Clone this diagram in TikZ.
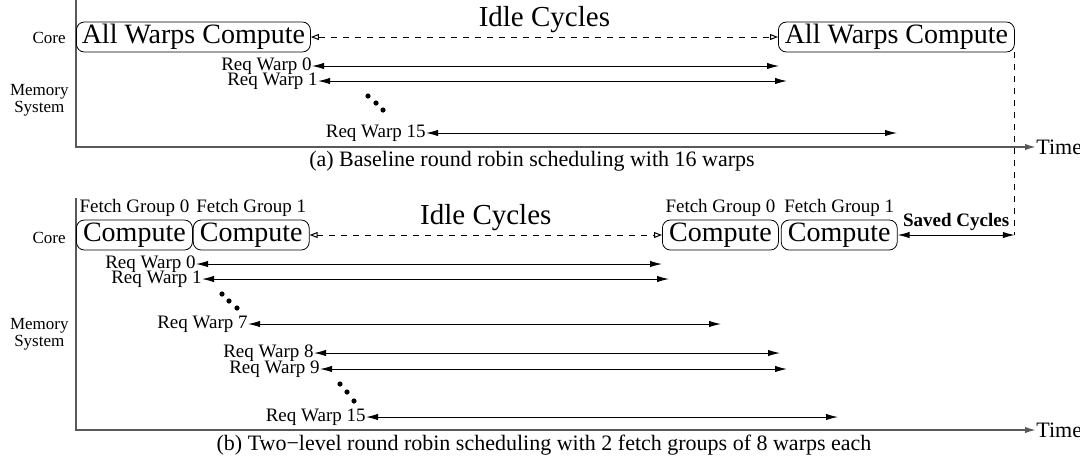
\documentclass[tikz,border=0pt]{standalone}
\usepackage{fontspec}
\setmainfont{Liberation Serif}
\usetikzlibrary{arrows.meta}
\usetikzlibrary{positioning}

\begin{document}
\begin{tikzpicture}[
    x=0.5pt, y=-0.5pt, % one unit per pixel of the figure, y going down
    every node/.style={
        inner sep=0pt, % labels touch the arrows
        font=\fontsize{9.5}{10}\selectfont
    },
    phase/.style={
        draw, rounded corners=4pt, % compute phases on the core
        minimum height=15pt,
        font=\fontsize{14}{16}\selectfont
    },
    side/.style={anchor=east, align=center, font=\fontsize{8.5}{6.5}\selectfont},
    big/.style={font=\fontsize{14.5}{16}\selectfont},
    caption/.style={font=\fontsize{11}{12}\selectfont},
    axis/.style={line width=0.8pt, draw=black!65, -{Latex[length=5.5pt,width=3.2pt]}},
    req/.style={line width=0.5pt, {Latex[length=6pt,width=3.2pt]}-{Latex[length=6pt,width=3.2pt]}},
    idle/.style={dashed, line width=0.5pt, {Triangle[open,length=4pt,width=3pt]}-{Triangle[open,length=4pt,width=3pt]}}
]
\useasboundingbox (0,0) rectangle (1080,457);

% (a) baseline round robin
\coordinate (topA) at (76,0);
\node[caption, anchor=west] (timeA) at (1036,147) {Time};
\draw[axis] (topA) |- (timeA.west);
\node[side] (coreA) at (66,38) {Core};
\node[side] (memA) at (69,100) {Memory\\System};

\node[phase, anchor=west, minimum width=117pt] (boxA) at (76,37) {All Warps Compute};
\node[phase, anchor=west, minimum width=118pt] (boxB) at (778,37) {All Warps Compute};
\draw[idle] (boxA.east) -- node[big, above=2pt] (idleA) {Idle Cycles} (boxB.west);

\node[anchor=east] (wa0) at (312,66) {Req Warp 0};
\node[anchor=east] (wa1) at (318,81) {Req Warp 1};
\node[anchor=east] (wa15) at (426,133) {Req Warp 15};
\coordinate (ea0) at (779,66);
\coordinate (ea1) at (787,81);
\coordinate (ea15) at (897,133);
\draw[req] (wa0.east) -- (ea0);
\draw[req] (wa1.east) -- (ea1);
\draw[req] (wa15.east) -- (ea15);
\fill (368,96) circle (1.3pt) (376,103) circle (1.3pt) (383,110) circle (1.3pt);

\node[caption] (capA) at (532,161) {(a) Baseline round robin scheduling with 16 warps};

% (b) two-level round robin
\coordinate (topB) at (76,198);
\node[caption, anchor=west] (timeB) at (1036,430) {Time};
\draw[axis] (topB) |- (timeB.west);
\node[side] (coreB) at (66,238) {Core};
\node[side] (memB) at (69,334) {Memory\\System};

\node[phase, anchor=west, minimum width=58pt] (cmp1) at (76,235) {Compute};
\node[phase, right=0pt of cmp1, minimum width=58pt] (cmp2) {Compute};
\node[phase, anchor=west, minimum width=58pt] (cmp3) at (662,235) {Compute};
\node[phase, right=1pt of cmp3, minimum width=58pt] (cmp4) {Compute};
\node[above=1.5pt of cmp1] (fg1) {Fetch Group 0};
\node[above=1.5pt of cmp2] (fg2) {Fetch Group 1};
\node[above=1.5pt of cmp3] (fg3) {Fetch Group 0};
\node[above=1.5pt of cmp4] (fg4) {Fetch Group 1};
\draw[idle] (cmp2.east) -- node[big, above=2pt] (idleB) {Idle Cycles} (cmp3.west);

% cycles saved against (a)
\coordinate (saved) at (boxB.south east |- cmp4.east);
\draw[dashed, line width=0.5pt] (boxB.south east) -- (saved);
\draw[req] (cmp4.east) -- node[above=2pt, font=\fontsize{9.5}{10}\bfseries] (savedtxt) {Saved Cycles} (saved);

\node[anchor=east] (wb0) at (196,264) {Req Warp 0};
\node[anchor=east] (wb1) at (202,279) {Req Warp 1};
\node[anchor=east] (wb7) at (248,324) {Req Warp 7};
\node[anchor=east] (wb8) at (314,353) {Req Warp 8};
\node[anchor=east] (wb9) at (320,369) {Req Warp 9};
\node[anchor=east] (wb15) at (366,417) {Req Warp 15};
\coordinate (eb0) at (662,264);
\coordinate (eb1) at (669,279);
\coordinate (eb7) at (721,324);
\coordinate (eb8) at (780,353);
\coordinate (eb9) at (787,369);
\coordinate (eb15) at (838,417);
\draw[req] (wb0.east) -- (eb0);
\draw[req] (wb1.east) -- (eb1);
\draw[req] (wb7.east) -- (eb7);
\draw[req] (wb8.east) -- (eb8);
\draw[req] (wb9.east) -- (eb9);
\draw[req] (wb15.east) -- (eb15);
\fill (222,294) circle (1.3pt) (229,301) circle (1.3pt) (237,308) circle (1.3pt);
\fill (340,384) circle (1.3pt) (347,392) circle (1.3pt) (354,401) circle (1.3pt);

\node[caption] (capB) at (544,445) {(b) Two−level round robin scheduling with 2 fetch groups of 8 warps each};
\end{tikzpicture}
\end{document}
